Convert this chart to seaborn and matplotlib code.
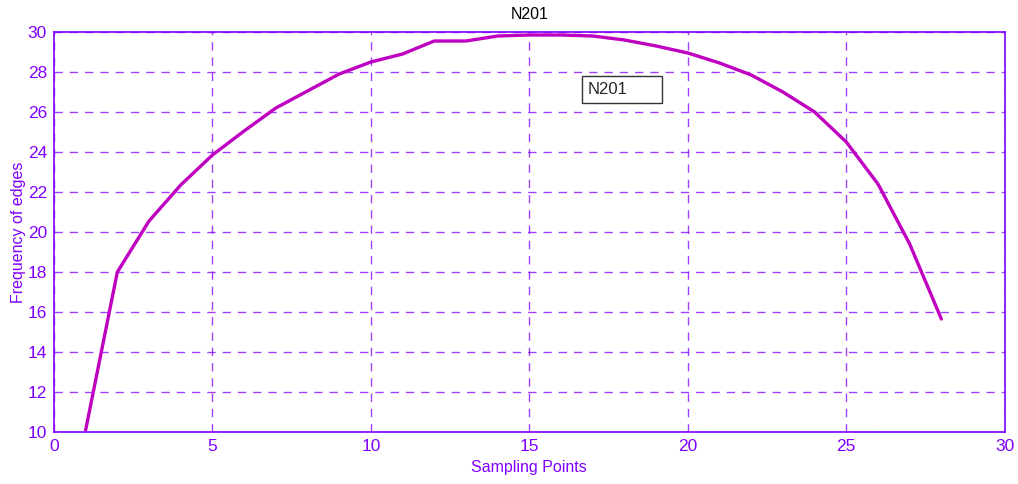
import matplotlib
matplotlib.use("Agg")
import matplotlib.pyplot as plt
import seaborn as sns
import pandas as pd

sampling_points = list(range(1, 29))
frequency = [10.1, 18.0, 20.55, 22.35, 23.85, 25.05, 26.2, 27.05, 27.9, 28.5,
             28.9, 29.55, 29.55, 29.8, 29.85, 29.85, 29.8, 29.6, 29.3, 28.95,
             28.45, 27.85, 27.0, 26.0, 24.5, 22.4, 19.4, 15.65]
series_name = "N201"

df = pd.DataFrame({"x": sampling_points, "y": frequency, "s": series_name})

sns.set_style("white")
plt.rcParams['font.family'] = ['Liberation Sans', 'DejaVu Sans']

axcol = "#8000FF"
linecol = "#C000C0"

fig = plt.figure(figsize=(10.18, 4.84), dpi=100)
ax = fig.add_axes([0.053, 0.1074, 0.934, 0.8265])
sns.lineplot(data=df, x="x", y="y", hue="s", palette=[linecol], linewidth=2.4, ax=ax)

ax.set_xlim(0, 30)
ax.set_ylim(10, 30)
ax.set_xticks(range(0, 31, 5))
ax.set_yticks(range(10, 31, 2))
ax.grid(True, color=axcol, linestyle=(0, (6, 5)), linewidth=1.0, alpha=0.75)
for s in ax.spines.values():
    s.set_color(axcol)
    s.set_linewidth(1.2)
    s.set_visible(True)
ax.tick_params(direction="in", colors=axcol, labelsize=12.5, length=5, width=1.2,
               top=False, right=False, pad=5)
ax.set_xlabel("Sampling Points", color=axcol, fontsize=11.5, labelpad=4)
ax.set_ylabel("Frequency of edges", color=axcol, fontsize=11.5, labelpad=1)
ax.set_title("N201", color="black", fontsize=11.5, pad=9)

leg = ax.legend(loc="lower left", bbox_to_anchor=(0.555, 0.8225, 0.085, 0.0675),
                mode="expand", handlelength=0, handletextpad=0, fancybox=False,
                framealpha=1, fontsize=12, borderpad=0.35, borderaxespad=0)
for h in leg.legend_handles:
    h.set_visible(False)
leg.get_frame().set_edgecolor("#333333")
leg.get_frame().set_linewidth(1.0)

fig.savefig("out.png", dpi=100)
